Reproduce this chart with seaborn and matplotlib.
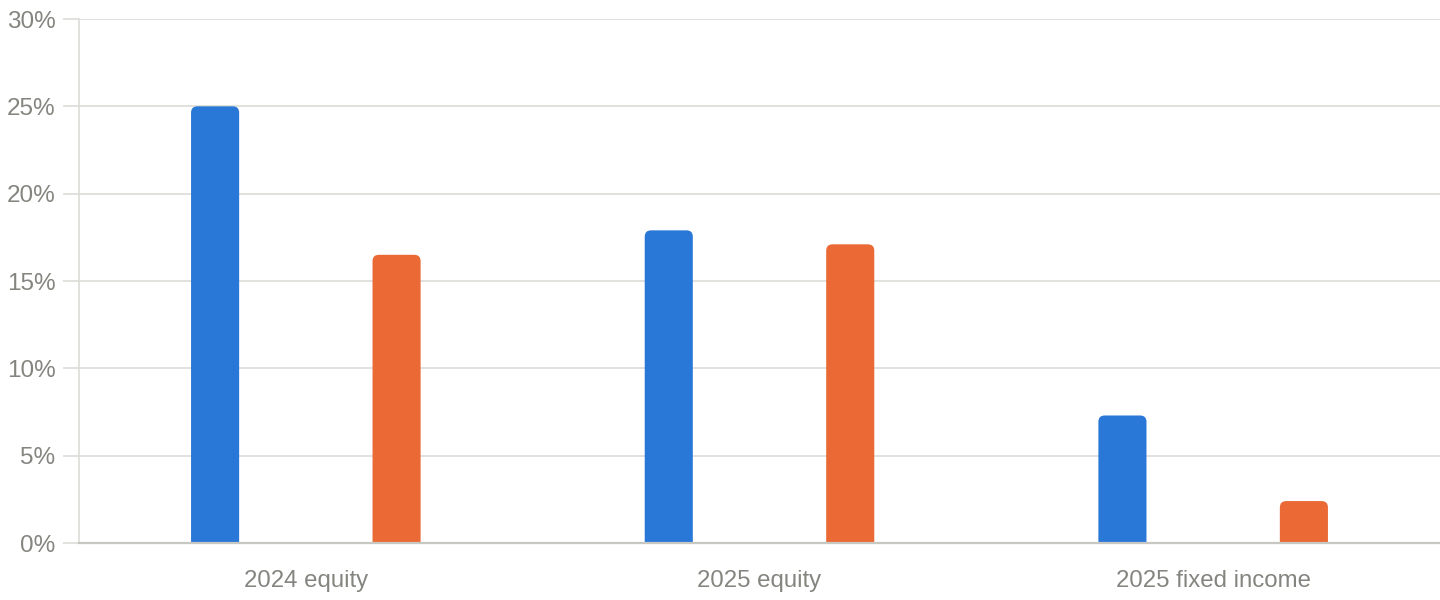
import pandas as pd
import matplotlib
matplotlib.use("Agg")
import matplotlib.pyplot as plt
from matplotlib.patches import FancyBboxPatch
from matplotlib.ticker import FuncFormatter
import seaborn as sns

categories = ["2024 equity", "2025 equity", "2025 fixed income"]
series_a = [25.0, 17.9, 7.3]
series_b = [16.5, 17.1, 2.4]
yticks = [0, 5, 10, 15, 20, 25, 30]

df = pd.DataFrame({
    "category": categories * 2,
    "series": ["A"] * 3 + ["B"] * 3,
    "value": series_a + series_b,
})

sns.set_theme(style="white")
plt.rcParams["font.family"] = ["Liberation Sans", "DejaVu Sans"]

grid_c = "#dcdcd8"
text_c = "#858580"
palette = {"A": "#2977d6", "B": "#ea6935"}

fig = plt.figure(figsize=(14.4, 6), dpi=100)
ax = fig.add_axes([79 / 1440, 1 - 543 / 600, 1 - 79 / 1440, (543 - 19) / 600])

sns.barplot(data=df, x="category", y="value", hue="series", palette=palette,
            width=0.8, gap=0.735, saturation=1, legend=False, ax=ax)

# swap plain bars for ones with rounded tops
bars = list(ax.patches)
for b in bars:
    x0, w, h = b.get_x(), b.get_width(), b.get_height()
    fc = b.get_facecolor()
    b.remove()
    p = FancyBboxPatch((x0, -1), w, h + 1,
                       boxstyle="round,pad=0,rounding_size=0.014",
                       mutation_aspect=26, facecolor=fc, edgecolor="none",
                       zorder=2)
    ax.add_patch(p)

ax.set_xlim(-0.5, 2.5)
ax.set_ylim(0, 30)
ax.set_yticks(yticks)
ax.yaxis.set_major_formatter(FuncFormatter(lambda v, _: f"{v:.0f}%"))
ax.grid(axis="y", color=grid_c, linewidth=1.2, zorder=0)
ax.set_axisbelow(True)
ax.set_xlabel("")
ax.set_ylabel("")

for s in ["top", "right"]:
    ax.spines[s].set_visible(False)
ax.spines["left"].set_color(grid_c)
ax.spines["left"].set_linewidth(1.2)
ax.spines["bottom"].set_color("#c8c8c2")
ax.spines["bottom"].set_linewidth(1.6)
ax.spines["bottom"].set_zorder(3)

ax.tick_params(axis="y", length=11.5, width=1.2, color=grid_c, pad=5.5,
               labelsize=17.5, labelcolor=text_c, left=True)
ax.tick_params(axis="x", length=0, pad=19.5, labelsize=17.3, labelcolor=text_c)

fig.savefig("out.png", dpi=100, facecolor="white")
